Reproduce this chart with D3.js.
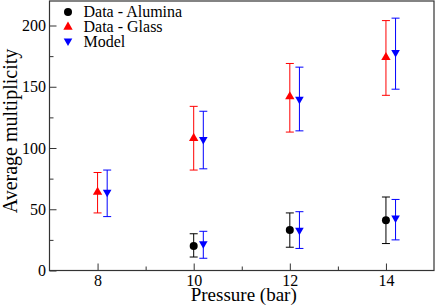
<!DOCTYPE html>
<html>
<head>
<meta charset="utf-8">
<script src="https://cdn.jsdelivr.net/npm/d3@7"></script>
<style>
  body { margin: 0; background: #fff; }
  svg text { font-family: "Liberation Serif", "Times New Roman", Times, "DejaVu Serif", serif !important; fill: #000; }
</style>
</head>
<body>
<div id="chart"></div>
<script>
// Dimensions
const width = 436;
const height = 307;
const margin = {top: 1, right: 2, bottom: 36.5, left: 49.5};
const FONT = '"Liberation Serif", "Times New Roman", Times, serif';

// Data (pressure in bar, average multiplicity with error bars)
const aluminaPressure = [10, 12, 14];
const aluminaValue = [20, 33, 41];
const aluminaLow = [11, 19, 22];
const aluminaHigh = [30, 47, 60];

const glassPressure = [8, 10, 12, 14];
const glassValue = [64, 108, 142, 174];
const glassLow = [47, 82, 113, 143];
const glassHigh = [80, 134, 169, 204];

const modelPressure = [8, 10, 12, 14, 10, 12, 14];
const modelValue = [63, 106, 139, 177, 21, 32, 42];
const modelLow = [44, 83, 114, 148, 10, 18, 25];
const modelHigh = [82, 130, 166, 206, 32, 48, 58];
const MODEL_OFFSET = 0.2;

const xTicks = [8, 10, 12, 14];
const xMinorTicks = [9, 11, 13];
const yTicks = [0, 50, 100, 150, 200];
const yMinorTicks = [25, 75, 125, 175];

const legendLabels = ["Data - Alumina", "Data - Glass", "Model"];

// Scales
const x = d3.scaleLinear()
    .domain([7, 15])
    .range([margin.left, width - margin.right]);

const y = d3.scaleLinear()
    .domain([0, 220])
    .range([height - margin.bottom, margin.top]);

const svg = d3.select("#chart").append("svg")
    .attr("width", width)
    .attr("height", height)
    .style("font-family", FONT);

// Axes (ticks pointing inward)
svg.append("g")
    .attr("transform", `translate(0,${height - margin.bottom})`)
    .call(d3.axisBottom(x).tickValues(xTicks).tickSize(-7).tickPadding(4).tickSizeOuter(0))
    .attr("font-family", null)
    .call(g => g.select(".domain").remove())
    .call(g => g.selectAll("text").attr("font-size", 16).style("font-family", FONT));

svg.append("g")
    .attr("transform", `translate(0,${height - margin.bottom})`)
    .call(d3.axisBottom(x).tickValues(xMinorTicks).tickSize(-4).tickFormat("").tickSizeOuter(0))
    .call(g => g.select(".domain").remove());

svg.append("g")
    .attr("transform", `translate(${margin.left},0)`)
    .call(d3.axisLeft(y).tickValues(yTicks).tickSize(-7).tickPadding(3.5).tickSizeOuter(0))
    .attr("font-family", null)
    .call(g => g.select(".domain").remove())
    .call(g => g.selectAll("text").attr("font-size", 16).style("font-family", FONT));

svg.append("g")
    .attr("transform", `translate(${margin.left},0)`)
    .call(d3.axisLeft(y).tickValues(yMinorTicks).tickSize(-4).tickFormat("").tickSizeOuter(0))
    .call(g => g.select(".domain").remove());

svg.selectAll(".tick line").attr("stroke", "#333");

// Frame
svg.append("rect")
    .attr("x", margin.left)
    .attr("y", margin.top)
    .attr("width", width - margin.right - margin.left)
    .attr("height", height - margin.bottom - margin.top)
    .attr("fill", "none")
    .attr("stroke", "#333")
    .attr("stroke-width", 1.2);

// Axis labels
svg.append("text")
    .attr("x", (margin.left + width - margin.right) / 2 + 2)
    .attr("y", 301)
    .attr("text-anchor", "middle")
    .attr("font-size", 19)
    .style("font-family", FONT)
    .text("Pressure (bar)");

svg.append("text")
    .attr("transform", `translate(17,${131}) rotate(-90)`)
    .attr("text-anchor", "middle")
    .attr("font-size", 20)
    .style("font-family", FONT)
    .text("Average multiplicity");

// Error bars
function drawErrorBars(xs, low, high, colour, offset) {
    const g = svg.append("g").attr("stroke", colour).attr("stroke-width", 1);
    xs.forEach((p, i) => {
        const cx = x(p + offset);
        g.append("line")
            .attr("x1", cx).attr("x2", cx)
            .attr("y1", y(low[i])).attr("y2", y(high[i]));
        [low[i], high[i]].forEach(v => {
            g.append("line")
                .attr("x1", cx - 4).attr("x2", cx + 4)
                .attr("y1", y(v)).attr("y2", y(v));
        });
    });
}

drawErrorBars(aluminaPressure, aluminaLow, aluminaHigh, "#000", 0);
drawErrorBars(glassPressure, glassLow, glassHigh, "#ff0000", 0);
drawErrorBars(modelPressure, modelLow, modelHigh, "#0000ff", MODEL_OFFSET);

// Markers
const upTri = d3.symbol().type(d3.symbolTriangle).size(38);
const downTri = "M-4.3,-3.6L4.3,-3.6L0,3.9Z";

svg.append("g").selectAll("circle")
    .data(aluminaPressure)
    .join("circle")
    .attr("cx", d => x(d))
    .attr("cy", (d, i) => y(aluminaValue[i]))
    .attr("r", 4)
    .attr("fill", "#000");

svg.append("g").selectAll("path")
    .data(glassPressure)
    .join("path")
    .attr("d", upTri)
    .attr("transform", (d, i) => `translate(${x(d)},${y(glassValue[i])})`)
    .attr("fill", "#ff0000");

svg.append("g").selectAll("path")
    .data(modelPressure)
    .join("path")
    .attr("d", downTri)
    .attr("transform", (d, i) => `translate(${x(d + MODEL_OFFSET)},${y(modelValue[i])})`)
    .attr("fill", "#0000ff");

// Legend
const legend = svg.append("g").attr("transform", "translate(68,12)");
legendLabels.forEach((label, i) => {
    const row = legend.append("g").attr("transform", `translate(0,${i * 15})`);
    if (i === 0) row.append("circle").attr("r", 4).attr("fill", "#000");
    if (i === 1) row.append("path").attr("d", upTri).attr("fill", "#ff0000");
    if (i === 2) row.append("path").attr("d", downTri).attr("fill", "#0000ff");
    row.append("text")
        .attr("x", 15.5)
        .attr("y", 4.5)
        .attr("font-size", 16)
        .style("font-family", FONT)
        .text(label);
});
</script>
</body>
</html>
